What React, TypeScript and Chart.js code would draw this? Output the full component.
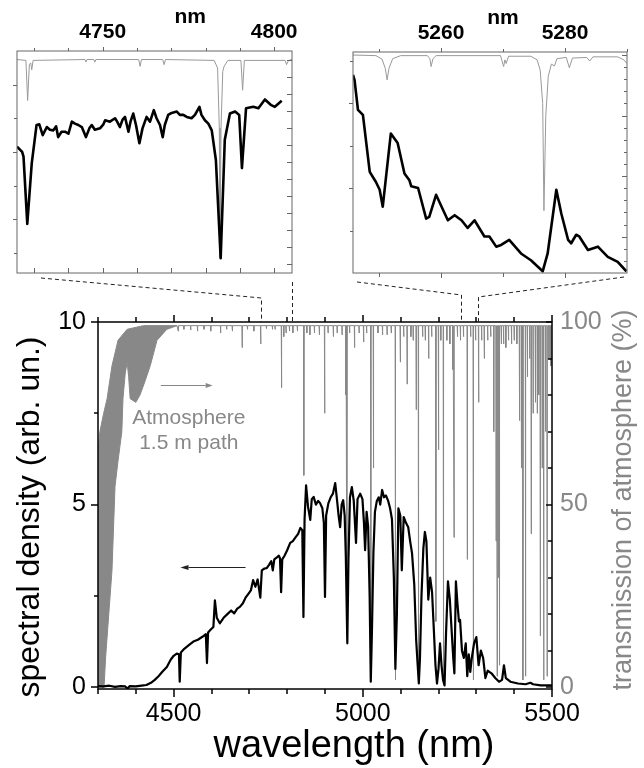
import React, { useEffect, useRef } from 'react';
import { Chart, registerables } from 'chart.js';

Chart.register(...registerables);

const FONT = "'Liberation Sans', Arial, Helvetica, sans-serif";
const BLACK = '#000000';
const GRAY = '#888888';
const INSET_GRAY = '#999999';
const FRAME_GRAY = '#666666';
const W = 644;
const H = 768;

// ---------------- main chart data ----------------
const mainWavelength = [
  4300, 4315, 4330, 4345, 4360, 4372, 4378, 4384, 4400, 4415,
  4428, 4440, 4450, 4460, 4470, 4482, 4492, 4500, 4508, 4514,
  4516, 4519, 4528, 4540, 4552, 4564, 4576, 4585, 4588, 4591,
  4598, 4605, 4609, 4614, 4622, 4632, 4642, 4652, 4660, 4668,
  4675, 4683, 4690, 4697, 4704, 4710, 4716, 4722, 4729, 4733,
  4740, 4746, 4752, 4758, 4762, 4766, 4772, 4778, 4781, 4784,
  4787, 4793, 4800, 4808, 4815, 4822, 4829, 4835, 4840, 4843,
  4846, 4850, 4855, 4861, 4865, 4870, 4876, 4882, 4887, 4893,
  4897, 4900, 4903, 4909, 4915, 4921, 4927, 4932, 4936, 4940,
  4944, 4948, 4952, 4955, 4959, 4962, 4966, 4971, 4976, 4982,
  4986, 4993, 4999, 5003, 5006, 5010, 5014, 5018, 5021, 5024,
  5028, 5032, 5037, 5042, 5046, 5051, 5056, 5061, 5067, 5072,
  5077, 5082, 5086, 5090, 5094, 5099, 5103, 5108, 5114, 5120,
  5125, 5130, 5136, 5141, 5145, 5148, 5151, 5155, 5160, 5164,
  5168, 5173, 5178, 5183, 5188, 5192, 5196, 5200, 5204, 5208,
  5212, 5216, 5220, 5225, 5230, 5235, 5239, 5242, 5246, 5250,
  5254, 5257, 5262, 5267, 5272, 5276, 5280, 5284, 5288, 5294,
  5300, 5306, 5312, 5318, 5324, 5330, 5340, 5350, 5360, 5368,
  5373, 5378, 5390, 5410, 5430, 5443, 5450, 5470, 5490, 5500,
];
const mainDensity = [
  0.03, 0.02, 0.04, 0.01, 0.03, 0.02, -0.04, 0.03, 0.02, 0.04,
  0.06, 0.12, 0.2, 0.3, 0.42, 0.55, 0.75, 0.86, 0.92, 0.9,
  0.15, 0.95, 1.05, 1.15, 1.25, 1.3, 1.38, 1.45, 0.66, 1.5,
  1.58, 1.65, 2.38, 1.9, 1.75, 1.9, 2.0, 2.1, 2.02, 2.15,
  2.2, 2.3, 2.45, 2.55, 2.65, 2.93, 2.75, 2.95, 2.45, 3.2,
  3.25, 3.26, 3.35, 3.45, 3.2, 3.5, 3.55, 3.6, 3.53, 2.6,
  3.5, 3.6, 3.75, 3.95, 4.0, 4.1, 4.2, 4.36, 4.3, 1.92,
  4.6, 5.53, 4.95, 4.58, 5.15, 5.21, 5.0, 5.1, 5.04, 4.9,
  4.5, 2.47, 4.7, 5.04, 5.2, 5.3, 5.59, 5.1, 4.7, 4.38,
  5.0, 5.12, 4.7, 3.6, 1.2, 3.5, 5.2, 5.48, 5.1, 3.95,
  5.15, 5.3, 5.15, 4.5, 3.75, 4.8, 4.4, 2.5, 0.15, 1.5,
  3.7, 4.8, 5.1, 5.2, 5.0, 5.4, 5.2, 5.25, 5.1, 4.9,
  4.6, 3.0, 0.5, 2.0, 4.9, 4.7, 3.2, 4.66, 4.5, 4.38,
  4.0, 3.67, 2.8, 1.29, 0.6, 0.1, 0.8, 2.5, 3.8, 4.25,
  4.0, 2.4, 3.0, 2.6, 1.5, 0.6, 0.1, 0.5, 1.2, 0.6,
  0.2, 0.05, 1.5, 2.9, 2.4, 1.5, 0.8, 0.38, 2.9, 2.3,
  1.8, 1.84, 1.0, 0.8, 1.2, 0.3, 0.9, 0.42, 0.8, 1.2,
  1.37, 0.6, 1.0, 0.8, 0.25, 0.45, 0.38, 0.25, 0.15, 0.2,
  0.6, 0.25, 0.15, 0.1, 0.08, 0.12, 0.08, 0.05, 0.05, 0.05,
];

// CO2 band (dense lines shown as a filled envelope), transmission %
const bandUpperWl = [4300, 4305, 4315, 4324, 4337, 4353, 4377, 4420, 4509];
const bandUpperT = [65, 70, 75, 79, 88, 95, 98, 99, 99];
const bandLowerWl = [4300, 4316, 4320, 4337, 4345, 4353, 4363, 4366, 4372, 4377, 4381, 4385, 4400, 4411, 4425, 4438, 4456, 4482, 4509];
const bandLowerT = [0, 0, 8, 32, 55, 62, 70, 79, 86, 89, 85, 79, 78, 80, 84, 88, 95, 98, 99];

// individual absorption lines of the atmosphere: centre (nm) and minimum transmission (%)
const lineCenters = [
  4512, 4527, 4545, 4563, 4580, 4598, 4624, 4640, 4655, 4681,
  4695, 4712, 4730, 4745, 4761, 4768, 4785, 4791, 4797, 4806,
  4815, 4827, 4844, 4852, 4860, 4872, 4885, 4899, 4908, 4922,
  4932, 4945, 4955, 4958, 4965, 4978, 4990, 5002, 5010, 5021,
  5028, 5040, 5052, 5064, 5075, 5086, 5099, 5108, 5117, 5127,
  5133, 5141, 5147, 5158, 5165, 5174, 5182, 5193, 5200, 5206,
  5213, 5222, 5230, 5238, 5241, 5250, 5258, 5266, 5276, 5285,
  5292, 5298, 5306, 5314, 5321, 5330, 5338, 5346, 5352, 5355,
  5358, 5361, 5366, 5372, 5378, 5385, 5393, 5400, 5407, 5414,
  5419, 5423, 5430, 5435, 5441, 5445, 5450, 5456, 5461, 5465,
  5469, 5474, 5478, 5483, 5487, 5492, 5497,
];
const lineMinima = [
  97.5, 98, 97.8, 97.5, 98, 97.5, 97, 98, 97.5, 93,
  98, 97.5, 94, 98.2, 98, 98, 82, 96, 97, 97.5,
  97, 97.5, 58, 97, 96.5, 97, 96.5, 75, 97, 96,
  97, 96.5, 80, 18, 97, 93, 97, 94.5, 97, 3,
  60, 97, 96.5, 96.5, 97, 2, 89, 96, 83, 96,
  95, 76, 2, 96, 95, 90, 96, 18, 65, 95,
  2, 95, 94, 87, 41, 96, 95, 96, 35, 96,
  2, 95, 78, 95, 90, 95, 96, 70, 40, 3,
  30, 6, 94, 94, 93, 95, 94, 95, 94, 73,
  60, 2, 3, 85, 90, 42, 75, 78, 75, 80,
  14, 60, 2, 70, 3, 90, 88,
];
const transBaseline = 99;

const mainXTickLabels = [4500, 5000, 5500];
const mainYTickLabels = [0, 5, 10];
const mainY2TickLabels = [0, 50, 100];

// ---------------- inset 1 (4725-4805 nm) ----------------
const inset1Wl = [
  4725, 4726.5, 4726.9, 4728, 4729.3, 4730.7, 4731.5, 4732.5, 4733.7, 4734.6,
  4735.6, 4736.4, 4737, 4738, 4739, 4740, 4741, 4741.9, 4742.9, 4743.9,
  4745.1, 4746.1, 4746.8, 4747.7, 4749.2, 4750.2, 4750.7, 4752.1, 4753.6, 4754.2,
  4755, 4755.8, 4756.5, 4757.5, 4758.1, 4758.9, 4759.7, 4760.7, 4761.6, 4762.8,
  4763.8, 4764.9, 4765.7, 4766.7, 4767.5, 4768.1, 4769.1, 4770.1, 4771.6, 4772.5,
  4773.5, 4774.5, 4775.9, 4776.9, 4778.2, 4778.8, 4779.8, 4780.8, 4781.8, 4783,
  4784.4, 4785.6, 4787.1, 4788.6, 4789.8, 4790.6, 4791.8, 4793.9, 4795.4, 4797.3,
  4799, 4800.2, 4802.2,
];
const inset1Sd = [
  3.08, 3.0, 2.93, 1.93, 2.83, 3.4, 3.41, 3.25, 3.37, 3.33,
  3.32, 3.38, 3.22, 3.3, 3.3, 3.27, 3.45, 3.42, 3.4, 3.37,
  3.22, 3.35, 3.4, 3.33, 3.35, 3.41, 3.47, 3.45, 3.5, 3.45,
  3.37, 3.48, 3.52, 3.3, 3.45, 3.57, 3.4, 3.13, 3.35, 3.52,
  3.45, 3.62, 3.5, 3.4, 3.22, 3.4, 3.55, 3.58, 3.6, 3.55,
  3.55, 3.52, 3.5, 3.55, 3.67, 3.55, 3.47, 3.42, 3.32, 2.88,
  1.42, 3.18, 3.57, 3.6, 3.55, 2.76, 3.65, 3.67, 3.65, 3.78,
  3.7, 3.67, 3.76,
];
const inset1TransWl = [
  4725, 4727.6, 4728.1, 4728.6, 4729.0, 4729.3, 4729.7, 4744.8, 4745.1, 4745.4,
  4747.4, 4747.7, 4748.0, 4760.5, 4760.9, 4761.3, 4767.5, 4767.9, 4768.3, 4782.5,
  4783.5, 4784.0, 4784.2, 4784.5, 4785.0, 4785.4, 4786.5, 4790.3, 4790.8, 4791.3,
  4803.2, 4803.6, 4804.2, 4805.2,
];
const inset1Trans = [
  100, 99.95, 97.6, 99.7, 99.8, 99.4, 99.95, 100, 99.85, 100,
  100, 99.85, 100, 100, 99.6, 100, 100, 99.7, 100, 99.95,
  99.5, 96, 88.4, 96, 99.3, 99.6, 99.95, 99.95, 98.2, 99.95,
  99.95, 99.7, 99.95, 100,
];
const inset1XTickLabels = [4750, 4800];

// ---------------- inset 2 (5246-5290 nm) ----------------
const inset2Wl = [
  5245.8, 5246.05, 5246.6, 5247.4, 5248.5, 5249.5, 5250.1, 5250.6, 5251.9, 5253,
  5254.1, 5254.9, 5255.2, 5256.3, 5257.6, 5258.1, 5259.2, 5261.1, 5262.2, 5263.3,
  5264.3, 5265.4, 5267, 5267.8, 5268.9, 5269.7, 5271, 5272.9, 5274.5, 5276.4,
  5277.2, 5278.6, 5279.4, 5280.5, 5281, 5281.8, 5282.3, 5283.7, 5285.3, 5286.9,
  5288.5, 5289.9,
];
const inset2Sd = [
  2.33, 2.27, 1.92, 1.86, 1.19, 1.07, 0.98, 0.78, 1.64, 1.53,
  1.17, 1.09, 1.02, 1.0, 0.64, 0.66, 0.92, 0.62, 0.68, 0.62,
  0.53, 0.62, 0.43, 0.43, 0.31, 0.33, 0.39, 0.23, 0.15, 0.02,
  0.23, 0.98, 0.7, 0.39, 0.35, 0.45, 0.43, 0.27, 0.31, 0.19,
  0.13, 0.02,
];
const inset2TransWl = [
  5245.8, 5249.5, 5250.5, 5251.0, 5251.3, 5251.6, 5252.2, 5253.5, 5257.8, 5258.2,
  5258.4, 5258.7, 5259.2, 5269.6, 5270.1, 5270.3, 5270.5, 5270.9, 5274.5, 5275.5,
  5276.0, 5276.4, 5276.6, 5276.9, 5277.3, 5277.8, 5278.3, 5278.7, 5280.2, 5280.7,
  5281.2, 5283.5, 5284.0, 5284.5, 5288.5, 5289.5, 5290,
];
const inset2Trans = [
  100, 99.9, 99.3, 97.8, 95.9, 97.8, 99.4, 99.9, 99.9, 99.4,
  98.1, 99.4, 99.9, 99.9, 98.1, 99.2, 98.6, 99.8, 99.8, 99.2,
  97.5, 92, 74.3, 90, 96.5, 98.5, 98.2, 99.4, 99.6, 97.9,
  99.5, 99.6, 99.0, 99.7, 99.7, 99.2, 98.6,
];
const inset2XTickLabels = [5260, 5280];

// ---------------- helpers ----------------
const pts = (xs: number[], ys: number[]) => xs.map((x, i) => ({ x, y: ys[i] }));

function absorptionLines(centers: number[], minima: number[], base: number, halfWidth: number, start: number, end: number) {
  const out: { x: number; y: number }[] = [{ x: start, y: base }];
  centers.forEach((c, i) => {
    out.push({ x: c - halfWidth, y: base }, { x: c, y: minima[i] }, { x: c + halfWidth, y: base });
  });
  out.push({ x: end, y: base });
  return out;
}

const seq = (a: number, b: number, s: number) => {
  const out: number[] = [];
  for (let v = a; v <= b + 1e-9; v += s) out.push(Math.round(v * 1000) / 1000);
  return out;
};

const fixedSize = (size: number) => (s: any) => {
  if (s.isHorizontal()) s.height = size;
  else s.width = size;
};
const setTicks = (vals: number[]) => (s: any) => {
  s.ticks = vals.map((v) => ({ value: v }));
};
const noGrid = { display: false, drawTicks: false };
const noBorder = { display: false };

type TickSpec = {
  scale: string;
  edge: 'left' | 'right' | 'top' | 'bottom';
  values: number[];
  major: number[];
  len: number;
  majorLen: number;
  inward: boolean;
};

function framePlugin(id: string, color: string, width: number, tickWidth: number, ticks: TickSpec[]) {
  return {
    id,
    afterDatasetsDraw(chart: any) {
      const { ctx, chartArea: a } = chart;
      ctx.save();
      ctx.strokeStyle = color;
      ctx.lineWidth = width;
      ctx.strokeRect(a.left, a.top, a.right - a.left, a.bottom - a.top);
      ctx.lineWidth = tickWidth;
      for (const t of ticks) {
        const sc = chart.scales[t.scale];
        for (const v of t.values) {
          const p = Math.round(sc.getPixelForValue(v)) + (tickWidth % 2 === 1 ? 0.5 : 0);
          const L = t.major.some((m) => Math.abs(m - v) < 1e-6) ? t.majorLen : t.len;
          const s = t.inward ? -1 : 1;
          ctx.beginPath();
          if (t.edge === 'bottom') {
            ctx.moveTo(p, a.bottom);
            ctx.lineTo(p, a.bottom + s * L);
          } else if (t.edge === 'top') {
            ctx.moveTo(p, a.top);
            ctx.lineTo(p, a.top - s * L);
          } else if (t.edge === 'left') {
            ctx.moveTo(a.left, p);
            ctx.lineTo(a.left - s * L, p);
          } else {
            ctx.moveTo(a.right, p);
            ctx.lineTo(a.right + s * L, p);
          }
          ctx.stroke();
        }
      }
      ctx.restore();
    },
  };
}

function drawArrow(ctx: CanvasRenderingContext2D, x1: number, y: number, x2: number, color: string, width: number, headLen: number, headHalf: number) {
  const dir = Math.sign(x2 - x1);
  ctx.strokeStyle = color;
  ctx.fillStyle = color;
  ctx.lineWidth = width;
  ctx.beginPath();
  ctx.moveTo(x1, y);
  ctx.lineTo(x2 - dir * headLen, y);
  ctx.stroke();
  ctx.beginPath();
  ctx.moveTo(x2, y);
  ctx.lineTo(x2 - dir * headLen, y - headHalf);
  ctx.lineTo(x2 - dir * headLen, y + headHalf);
  ctx.closePath();
  ctx.fill();
}

// annotation positions, in data units of the main chart
const atmosphereText = ['Atmosphere', '1.5 m path'];
const atmosphereTextAt = { x: 4540, y: [72, 65.3] };
const grayArrow = { from: 4466, to: 4603, at: 82.8 };
const blackArrow = { from: 4690, to: 4518, at: 3.29 };
const inset1Link = [4731, 4814];
const inset2Link = [5260, 5305];

// layout boxes (pixels)
const MAIN = { left: 98, right: 552, top: 322, bottom: 689 };
const IN1 = { left: 17, right: 292, top: 51, bottom: 273 };
const IN2 = { left: 353, right: 627, top: 52, bottom: 273 };

const mainAnnotations = {
  id: 'mainAnnotations',
  afterDraw(chart: any) {
    const { ctx } = chart;
    const { x, y, y2 } = chart.scales;
    ctx.save();
    // atmosphere text
    ctx.fillStyle = GRAY;
    ctx.font = `21px ${FONT}`;
    ctx.textAlign = 'center';
    ctx.textBaseline = 'alphabetic';
    atmosphereText.forEach((t, i) => {
      ctx.fillText(t, x.getPixelForValue(atmosphereTextAt.x), y2.getPixelForValue(atmosphereTextAt.y[i]));
    });
    drawArrow(ctx, x.getPixelForValue(grayArrow.from), Math.round(y2.getPixelForValue(grayArrow.at)) + 0.5, x.getPixelForValue(grayArrow.to), GRAY, 1, 7, 2.5);
    drawArrow(ctx, x.getPixelForValue(blackArrow.from), Math.round(y.getPixelForValue(blackArrow.at)) + 0.5, x.getPixelForValue(blackArrow.to), '#222', 1, 8, 2.5);

    // dashed connectors to the insets
    ctx.strokeStyle = '#222';
    ctx.lineWidth = 1;
    ctx.setLineDash([4, 3]);
    const top = chart.chartArea.top;
    const a1 = Math.round(x.getPixelForValue(inset1Link[0])) + 0.5;
    const b1 = Math.round(x.getPixelForValue(inset1Link[1])) + 0.5;
    ctx.beginPath();
    ctx.moveTo(IN1.left + 24, IN1.bottom + 5);
    ctx.lineTo(a1, IN1.bottom + 25);
    ctx.lineTo(a1, top);
    ctx.moveTo(b1, IN1.bottom + 9);
    ctx.lineTo(b1, top);
    const a2 = Math.round(x.getPixelForValue(inset2Link[0])) + 0.5;
    const b2 = Math.round(x.getPixelForValue(inset2Link[1])) + 0.5;
    ctx.moveTo(IN2.left + 4, IN2.bottom + 9);
    ctx.lineTo(a2, IN2.bottom + 22);
    ctx.lineTo(a2, top);
    ctx.moveTo(IN2.right - 3, IN2.bottom + 4);
    ctx.lineTo(b2, IN2.bottom + 24);
    ctx.lineTo(b2, top);
    ctx.stroke();
    ctx.setLineDash([]);

    // axis titles
    ctx.fillStyle = BLACK;
    ctx.font = `32px ${FONT}`;
    ctx.save();
    ctx.translate(39, 517);
    ctx.rotate(-Math.PI / 2);
    ctx.fillText('spectral density (arb. un.)', 0, 0);
    ctx.restore();

    ctx.fillStyle = GRAY;
    ctx.font = `27px ${FONT}`;
    ctx.save();
    ctx.translate(631, 500);
    ctx.rotate(-Math.PI / 2);
    ctx.fillText('transmission of atmosphere (%)', 0, 0);
    ctx.restore();

    ctx.fillStyle = BLACK;
    ctx.font = `38px ${FONT}`;
    ctx.fillText('wavelength (nm)', 354, 757);
    ctx.restore();
  },
};

function nmLabelPlugin(id: string, xValue: number) {
  return {
    id,
    afterDraw(chart: any) {
      const { ctx } = chart;
      ctx.save();
      ctx.fillStyle = BLACK;
      ctx.font = `bold 21px ${FONT}`;
      ctx.textAlign = 'center';
      ctx.textBaseline = 'alphabetic';
      ctx.fillText('nm', chart.scales.x.getPixelForValue(xValue), chart.chartArea.top - 28);
      ctx.restore();
    },
  };
}

const tickFont = (size: number, bold = false) => ({ family: FONT, size, weight: bold ? 'bold' : 'normal' });
const numLabel = (v: any) => String(v);

function mainConfig(): any {
  return {
    type: 'line',
    data: {
      datasets: [
        {
          label: 'spectral density',
          data: pts(mainWavelength, mainDensity),
          yAxisID: 'y',
          borderColor: BLACK,
          borderWidth: 2.2,
          borderJoinStyle: 'round',
          pointRadius: 0,
          tension: 0,
          fill: false,
        },
        {
          label: 'band upper',
          data: pts(bandUpperWl, bandUpperT),
          yAxisID: 'y2',
          borderColor: GRAY,
          borderWidth: 1,
          pointRadius: 0,
          tension: 0,
          fill: false,
        },
        {
          label: 'band lower',
          data: pts(bandLowerWl, bandLowerT),
          yAxisID: 'y2',
          borderColor: GRAY,
          backgroundColor: GRAY,
          borderWidth: 1,
          pointRadius: 0,
          tension: 0,
          fill: '-1',
        },
        {
          label: 'transmission',
          data: absorptionLines(lineCenters, lineMinima, transBaseline, 0.7, 4509, 5500),
          yAxisID: 'y2',
          borderColor: GRAY,
          borderWidth: 1,
          borderJoinStyle: 'round',
          pointRadius: 0,
          tension: 0,
          fill: false,
        },
      ],
    },
    options: {
      responsive: false,
      animation: false,
      devicePixelRatio: 1,
      events: [],
      layout: { padding: { top: MAIN.top, left: 0, right: 0, bottom: 0 } },
      plugins: { legend: { display: false }, tooltip: { enabled: false } },
      scales: {
        x: {
          type: 'linear',
          position: 'bottom',
          min: 4300,
          max: 5500,
          afterBuildTicks: setTicks(mainXTickLabels),
          afterFit: fixedSize(H - MAIN.bottom),
          grid: noGrid,
          border: noBorder,
          ticks: { color: BLACK, font: tickFont(25), padding: 10, autoSkip: false, maxRotation: 0, callback: numLabel },
        },
        y: {
          type: 'linear',
          position: 'left',
          min: -0.05,
          max: 10,
          afterBuildTicks: setTicks(mainYTickLabels),
          afterFit: fixedSize(MAIN.left),
          grid: noGrid,
          border: noBorder,
          ticks: { color: BLACK, font: tickFont(25), padding: 12, callback: numLabel },
        },
        y2: {
          type: 'linear',
          position: 'right',
          min: -0.5,
          max: 100,
          afterBuildTicks: setTicks(mainY2TickLabels),
          afterFit: fixedSize(W - MAIN.right),
          grid: noGrid,
          border: noBorder,
          ticks: { color: GRAY, font: tickFont(25), padding: 8, callback: numLabel },
        },
      },
    },
    plugins: [
      framePlugin('mainFrame', BLACK, 1.5, 1.5, [
        { scale: 'x', edge: 'bottom', values: seq(4300, 5500, 100), major: mainXTickLabels, len: 5, majorLen: 8, inward: false },
        { scale: 'x', edge: 'top', values: seq(4300, 5500, 100), major: mainXTickLabels, len: 5, majorLen: 7, inward: false },
        { scale: 'y', edge: 'left', values: seq(0, 10, 2.5), major: mainYTickLabels, len: 4, majorLen: 7, inward: false },
        { scale: 'y2', edge: 'right', values: seq(0, 100, 10), major: mainY2TickLabels, len: 4, majorLen: 6, inward: true },
      ]),
      mainAnnotations,
    ],
  };
}

function insetConfig(
  box: { left: number; right: number; top: number; bottom: number },
  xMin: number, xMax: number, xLabels: number[],
  sdWl: number[], sd: number[], yMin: number, yMax: number,
  trWl: number[], tr: number[], y2Min: number, y2Max: number,
  ticks: TickSpec[], nmAt: number, id: string,
): any {
  return {
    type: 'line',
    data: {
      datasets: [
        {
          label: 'spectral density',
          data: pts(sdWl, sd),
          yAxisID: 'y',
          borderColor: BLACK,
          borderWidth: 2.6,
          borderJoinStyle: 'round',
          pointRadius: 0,
          tension: 0,
          fill: false,
        },
        {
          label: 'transmission',
          data: pts(trWl, tr),
          yAxisID: 'y2',
          borderColor: INSET_GRAY,
          borderWidth: 1,
          borderJoinStyle: 'round',
          pointRadius: 0,
          tension: 0,
          fill: false,
        },
      ],
    },
    options: {
      responsive: false,
      animation: false,
      devicePixelRatio: 1,
      events: [],
      layout: { padding: { top: 0, left: 0, right: 0, bottom: H - box.bottom } },
      plugins: { legend: { display: false }, tooltip: { enabled: false } },
      scales: {
        x: {
          type: 'linear',
          position: 'top',
          min: xMin,
          max: xMax,
          afterBuildTicks: setTicks(xLabels),
          afterFit: fixedSize(box.top),
          grid: noGrid,
          border: noBorder,
          ticks: { color: BLACK, font: tickFont(21, true), padding: 6, autoSkip: false, maxRotation: 0, callback: numLabel },
        },
        y: {
          type: 'linear',
          position: 'left',
          min: yMin,
          max: yMax,
          afterFit: fixedSize(box.left),
          grid: noGrid,
          border: noBorder,
          ticks: { display: false },
        },
        y2: {
          type: 'linear',
          position: 'right',
          min: y2Min,
          max: y2Max,
          afterFit: fixedSize(W - box.right),
          grid: noGrid,
          border: noBorder,
          ticks: { display: false },
        },
      },
    },
    plugins: [framePlugin(id + 'Frame', FRAME_GRAY, 1, 1, ticks), nmLabelPlugin(id + 'Nm', nmAt)],
  };
}

export default function App() {
  const mainRef = useRef<HTMLCanvasElement>(null);
  const in1Ref = useRef<HTMLCanvasElement>(null);
  const in2Ref = useRef<HTMLCanvasElement>(null);

  useEffect(() => {
    const charts: Chart[] = [];
    charts.push(new Chart(mainRef.current as HTMLCanvasElement, mainConfig()));
    charts.push(
      new Chart(
        in1Ref.current as HTMLCanvasElement,
        insetConfig(
          IN1, 4725, 4805.2, inset1XTickLabels,
          inset1Wl, inset1Sd, 1.2, 4.5,
          inset1TransWl, inset1Trans, 87.5, 100.5,
          [
            { scale: 'x', edge: 'top', values: seq(4730, 4800, 10), major: inset1XTickLabels, len: 3, majorLen: 4, inward: false },
            { scale: 'x', edge: 'bottom', values: seq(4730, 4800, 10), major: [], len: 5, majorLen: 5, inward: true },
            { scale: 'y', edge: 'left', values: seq(1.5, 4, 0.5), major: [2, 3, 4], len: 3, majorLen: 4, inward: false },
            { scale: 'y2', edge: 'right', values: seq(88, 100, 1), major: [], len: 5, majorLen: 5, inward: true },
          ],
          4775.5, 'inset1',
        ),
      ),
    );
    charts.push(
      new Chart(
        in2Ref.current as HTMLCanvasElement,
        insetConfig(
          IN2, 5245.8, 5290, inset2XTickLabels,
          inset2Wl, inset2Sd, 0, 2.6,
          inset2TransWl, inset2Trans, 64, 100.5,
          [
            { scale: 'x', edge: 'top', values: seq(5250, 5290, 10), major: inset2XTickLabels, len: 3, majorLen: 4, inward: false },
            { scale: 'x', edge: 'bottom', values: seq(5250, 5280, 10), major: inset2XTickLabels, len: 4, majorLen: 5, inward: false },
            { scale: 'y', edge: 'left', values: seq(0.5, 2.5, 0.5), major: [1, 2], len: 3, majorLen: 4, inward: false },
            { scale: 'y2', edge: 'right', values: seq(66, 100, 2), major: [70, 80, 90, 100], len: 3, majorLen: 5, inward: true },
          ],
          5270, 'inset2',
        ),
      ),
    );
    return () => charts.forEach((c) => c.destroy());
  }, []);

  const cs: React.CSSProperties = { position: 'absolute', left: 0, top: 0 };
  return (
    <div style={{ position: 'absolute', left: 0, top: 0, width: W, height: H, background: '#ffffff' }}>
      <canvas ref={mainRef} width={W} height={H} style={cs} />
      <canvas ref={in1Ref} width={W} height={H} style={cs} />
      <canvas ref={in2Ref} width={W} height={H} style={cs} />
    </div>
  );
}
